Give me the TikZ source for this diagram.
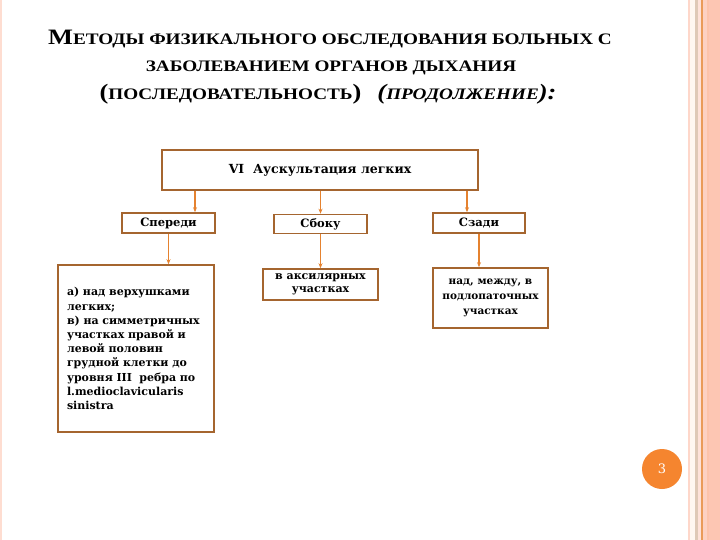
\documentclass[tikz,border=0pt]{standalone}
\usepackage{fontspec}
\setmainfont{Liberation Serif}
\newfontfamily\titlefont[FakeStretch=1.2]{Liberation Serif}
\newfontfamily\boxfont{DejaVu Serif}
\usetikzlibrary{arrows.meta}

\definecolor{boxline}{HTML}{A5652F}
\definecolor{arrline}{HTML}{E5822F}
\definecolor{pagecirc}{HTML}{F5852F}
\definecolor{stripe}{HTML}{FDC6B3}

\newcommand\titlebig[1]{{\fontsize{22}{24}\selectfont #1}}
\newcommand\titlesmall[1]{{\fontsize{16}{18}\selectfont #1}}

\tikzset{
  box/.style={draw=boxline, line width=1.6pt, fill=white, inner sep=2pt,
    font=\boxfont\bfseries\fontsize{11.5}{13}\selectfont},
  arr/.style={-{Stealth[length=5pt,width=4pt]}, arrline, line width=1.2pt},
  heading/.style={font=\titlefont\bfseries, inner sep=0pt, anchor=base}
}

\begin{document}
\begin{tikzpicture}[x=1pt,y=-1pt]
  \useasboundingbox (0,0) rectangle (720,540);
  \fill[white] (0,0) rectangle (720,540);
  % slide border stripes
  \fill[stripe!60] (0,0) rectangle (2,540);
  \fill[stripe!70] (688,0) rectangle (690,540);
  \fill[orange!6] (690,0) rectangle (695,540);
  \fill[boxline!35] (695,0) rectangle (698,540);
  \fill[stripe!50] (698,0) rectangle (701,540);
  \fill[arrline!80] (701,0) rectangle (702.5,540);
  \fill[stripe!80] (702.5,0) rectangle (707,540);
  \fill[stripe!95!orange] (707,0) rectangle (709,540);
  \fill[stripe] (709,0) rectangle (720,540);
  % title
  \node[heading] (title1) at (330,45)
    {\titlebig{М}\titlesmall{ЕТОДЫ ФИЗИКАЛЬНОГО ОБСЛЕДОВАНИЯ БОЛЬНЫХ С}};
  \node[heading] (title2) at (331,72)
    {\titlesmall{ЗАБОЛЕВАНИЕМ ОРГАНОВ ДЫХАНИЯ}};
  \node[heading] (title3) at (328,100)
    {\titlebig{(}\titlesmall{ПОСЛЕДОВАТЕЛЬНОСТЬ}\titlebig{)}\quad\ \
     \itshape\titlebig{(}\titlesmall{ПРОДОЛЖЕНИЕ}\titlebig{):}};
  % boxes
  \node[box, minimum width=316pt, minimum height=40pt,
    font=\boxfont\bfseries\fontsize{12.5}{14}\selectfont] (ausc) at (320,170)
    {VI\ \ Аускультация легких};
  \node[box, minimum width=93pt, minimum height=20pt] (front) at (168.5,223) {Спереди};
  \node[box, minimum width=93pt, minimum height=19pt] (side) at (320.5,224) {Сбоку};
  \node[box, minimum width=92pt, minimum height=20pt] (back) at (479,223) {Сзади};
  \node[box, minimum width=156pt, minimum height=167pt, text width=138pt,
    align=left, font=\boxfont\bfseries\fontsize{11}{14.2}\selectfont]
    (frontpts) at (136,348.5)
    {а) над верхушками\\легких;\\в) на симметричных\\участках правой и\\левой половин\\грудной клетки до\\уровня III\ \ ребра по\\l.medioclavicularis\\sinistra};
  \node[box, minimum width=115pt, minimum height=31pt, align=center,
    font=\boxfont\bfseries\fontsize{11}{12.5}\selectfont]
    (sidepts) at (320.5,284.5) {в аксилярных\\участках};
  \node[box, minimum width=115pt, minimum height=60pt, align=center,
    font=\boxfont\bfseries\fontsize{10.5}{15}\selectfont]
    (backpts) at (490.5,298) {над, между, в\\подлопаточных\\участках};
  % connectors
  \draw[arr] ([xshift=26.5pt]front.north |- ausc.south) -- ([xshift=26.5pt]front.north);
  \draw[arr] (side.north |- ausc.south) -- (side.north);
  \draw[arr] ([xshift=-12pt]back.north |- ausc.south) -- ([xshift=-12pt]back.north);
  \draw[arr] (front.south) -- (front.south |- frontpts.north);
  \draw[arr] (side.south) -- (side.south |- sidepts.north);
  \draw[arr] (back.south) -- (back.south |- backpts.north);
  % page number
  \node[circle, fill=pagecirc, minimum size=40pt, text=white,
    font=\boxfont\fontsize{13}{14}\selectfont] (pagenum) at (662,469) {3};
\end{tikzpicture}
\end{document}
